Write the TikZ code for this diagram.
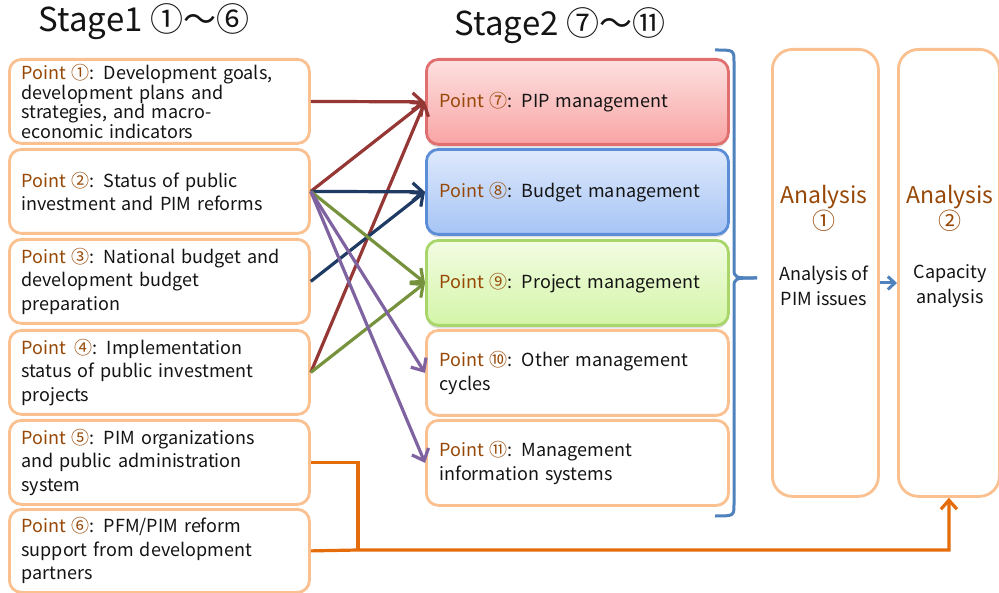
\documentclass[tikz,border=0pt]{standalone}
\usepackage{fontspec}
\setmainfont{Noto Sans CJK JP}
\usetikzlibrary{arrows.meta,shadows,calc}
\definecolor{boxor}{RGB}{250,192,144}
\definecolor{pcol}{RGB}{151,72,6}
\definecolor{txt}{RGB}{20,20,20}
\definecolor{cred}{RGB}{149,55,53}
\definecolor{cnavy}{RGB}{31,59,99}
\definecolor{cgreen}{RGB}{118,146,60}
\definecolor{cpurple}{RGB}{127,99,161}
\definecolor{corange}{RGB}{228,108,10}
\definecolor{cblue}{RGB}{79,129,189}
\newcommand\pnt[1]{\textcolor{pcol}{Point #1}:}
\begin{document}
\begin{tikzpicture}[x=1pt,y=-1pt,
  every node/.style={text=txt},
  lbox/.style={draw=boxor, line width=2.8pt, rounded corners=12pt, fill=white,
    minimum width=299pt, minimum height=84pt, text width=276pt, inner xsep=12pt,
    align=left, anchor=north west, font=\fontsize{18}{23.5}\selectfont},
  mbox/.style={lbox, minimum width=302pt, minimum height=85pt},
  abox/.style={draw=boxor, line width=2.8pt, rounded corners=20pt, fill=white,
    minimum width=106pt, minimum height=447pt, anchor=north west},
  conn/.style={line width=3.2pt, -{Straight Barb[length=10pt,width=18pt,line width=3.2pt]}},
  sh/.style={drop shadow={shadow xshift=0pt, shadow yshift=-3pt, opacity=0.25}}
]
\useasboundingbox (0,0) rectangle (999,593);

\node (s1) at (144,22) {\fontsize{33}{36}\selectfont Stage1 ①～⑥};
\node (s2) at (560,26) {\fontsize{33}{36}\selectfont Stage2 ⑦～⑪};

% left boxes
\node[lbox, font=\fontsize{18}{19.5}\selectfont] (b1) at (8,58) {\pnt{①} Development goals,\\development plans and\\strategies, and macro-\\economic indicators};
\node[lbox] (b2) at (8,148) {\pnt{②} Status of public\\investment and PIM reforms};
\node[lbox] (b3) at (8,238) {\pnt{③} National budget and\\development budget\\preparation};
\node[lbox] (b4) at (8,329) {\textcolor{pcol}{Point\enspace④}: Implementation\\status of public investment\\projects};
\node[lbox] (b5) at (8,419) {\pnt{⑤}\enspace PIM organizations\\and public administration\\system};
\node[lbox, minimum height=83pt] (b6) at (8,508) {\pnt{⑥} PFM/PIM reform\\support from development\\partners};

% middle boxes
\node[mbox, sh, draw={rgb,255:red,224;green,112;blue,112}, top color={rgb,255:red,253;green,224;blue,224}, bottom color={rgb,255:red,249;green,164;blue,164}] (m7) at (425,58) {\pnt{⑦} PIP management};
\node[mbox, sh, draw={rgb,255:red,91;green,142;blue,214}, top color={rgb,255:red,222;green,233;blue,252}, bottom color={rgb,255:red,166;green,196;blue,245}] (m8) at (425,148) {\pnt{⑧} Budget management};
\node[mbox, sh, draw={rgb,255:red,168;green,214;blue,106}, top color={rgb,255:red,242;green,252;blue,226}, bottom color={rgb,255:red,212;green,245;blue,168}] (m9) at (425,239) {\pnt{⑨} Project management};
\node[mbox] (m10) at (425,329) {\pnt{⑩} Other management\\cycles};
\node[mbox] (m11) at (425,419) {\pnt{⑪} Management\\information systems};

% brace
\draw[cblue, line width=3pt] (715,50) .. controls (734,50) .. (734,62) -- (734,268) .. controls (734,278) .. (757,278);
\draw[cblue, line width=3pt] (715,516) .. controls (734,516) .. (734,504) -- (734,288) .. controls (734,278) .. (757,278);

% analysis boxes
\node[abox] (a1) at (771,48) {};
\node[abox, minimum width=101pt] (a2) at (897,48) {};
\node[align=center, text=pcol, font=\fontsize{23}{24}\selectfont] (a1h) at (824,208) {Analysis\\①};
\node[align=center, font=\fontsize{18}{25}\selectfont] (a1t) at (824,286) {Analysis of\\PIM issues};
\node[align=center, text=pcol, font=\fontsize{23}{24}\selectfont] (a2h) at (950,208) {Analysis\\②};
\node[align=center, font=\fontsize{18}{25}\selectfont] (a2t) at (950,286) {Capacity\\analysis};
\coordinate (ay) at (0,283);
\draw[cblue, line width=3pt, -{Straight Barb[length=7pt,width=13pt,line width=3pt]}] (a1.east |- ay) -- (a2.west |- ay);

% connectors
\draw[conn, cred] (b1.east) -- (m7.west);
\draw[conn, cred] (b2.east) -- (m7.west);
\draw[conn, cred] (b4.east) -- (m7.west);
\draw[conn, cnavy] (b2.east) -- (m8.west);
\draw[conn, cnavy] (b3.east) -- (m8.west);
\draw[conn, cgreen] (b2.east) -- (m9.west);
\draw[conn, cgreen] (b4.east) -- (m9.west);
\draw[conn, cpurple] (b2.east) -- (m10.west);
\draw[conn, cpurple] (b2.east) -- (m11.west);

% orange
\coordinate (j) at (358,550);
\draw[corange, line width=3.2pt] (b5.east) -| (j);
\draw[corange, line width=3.2pt, -{Straight Barb[length=9pt,width=16pt,line width=3.2pt]}] (b6.east) -- (j) -| (a2.south);
\end{tikzpicture}
\end{document}
